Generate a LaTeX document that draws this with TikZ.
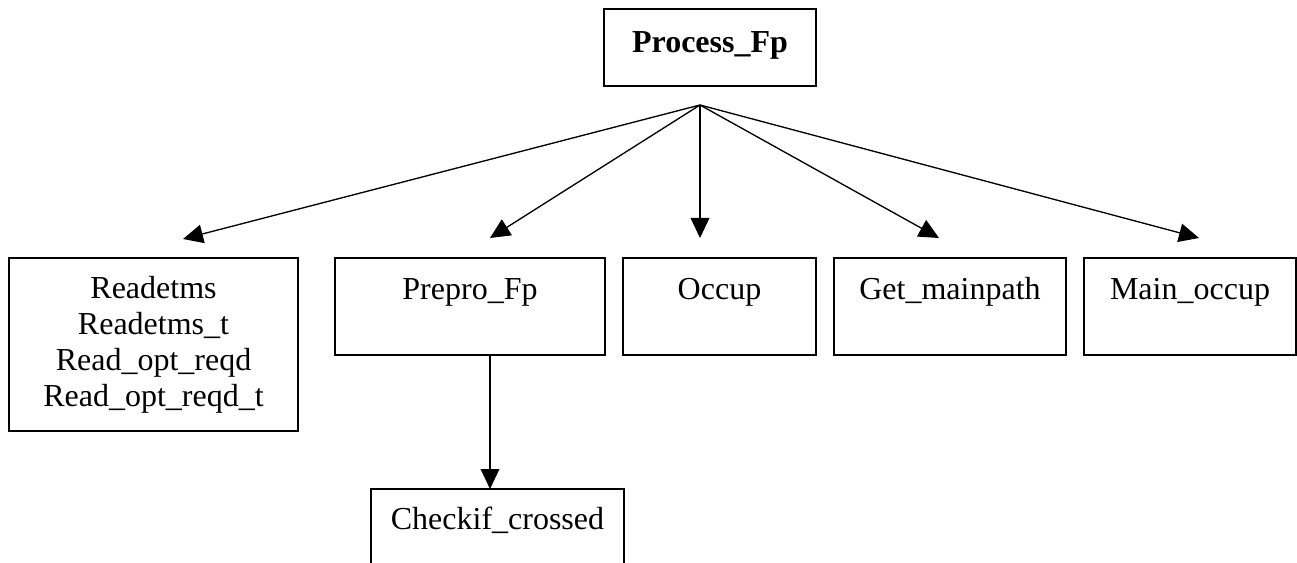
\documentclass[tikz,border=0pt]{standalone}
\usepackage{fontspec}
\setmainfont{Liberation Serif}
\usetikzlibrary{arrows.meta,calc}

% a box given by its corners in pixel-like units (1 unit = 0.75pt)
\newcommand{\procbox}[5]{%
  \node[box, minimum width={(#4-#2)*0.75pt}, minimum height={(#5-#3)*0.75pt}]
    (#1) at ({(#2+#4)/2},{(#3+#5)/2}) {};}

\tikzset{
  box/.style={draw, line width=1.3pt, inner sep=0pt, outer sep=0pt},
  lbl/.style={font=\fontsize{24}{27}\selectfont, inner sep=0pt, anchor=base, align=center},
  link/.style={line width=1pt, -{Triangle[length=15pt, width=14pt]}},
}

\begin{document}
\begin{tikzpicture}[x=0.75pt, y=-0.75pt]
  \clip (0,0) rectangle (1297,563);
  \fill[white] (0,0) rectangle (1297,563);

  % boxes
  \procbox{proc}{604}{9}{816}{86}
  \procbox{read}{9}{258}{298}{431}
  \procbox{prep}{335}{258}{605}{355}
  \procbox{occ}{623}{258}{816}{355}
  \procbox{getm}{834}{258}{1066}{355}
  \procbox{mocc}{1084}{258}{1296}{355}
  \procbox{chk}{371}{489}{624}{600}

  % labels, set from the top edge of each box (base = last line)
  \node[lbl, font=\fontsize{24}{27}\selectfont\bfseries] (proc-t) at ($(proc.north)+(0,44)$) {Process\_Fp};
  \node[lbl] (read-t) at ($(read.north)+(0,148)$) {Readetms\\Readetms\_t\\Read\_opt\_reqd\\Read\_opt\_reqd\_t};
  \node[lbl] (prep-t) at ($(prep.north)+(0,42)$) {Prepro\_Fp};
  \node[lbl] (occ-t) at ($(occ.north)+(0,42)$) {Occup};
  \node[lbl] (getm-t) at ($(getm.north)+(0,42)$) {Get\_mainpath};
  \node[lbl] (mocc-t) at ($(mocc.north)+(0,42)$) {Main\_occup};
  \node[lbl] (chk-t) at ($(chk.north)+(0,40)$) {Checkif\_crossed};

  % fan-out point and arrow targets
  \coordinate (hub) at (700,105);
  \coordinate (read-in) at (183,239);
  \coordinate (prep-in) at (490,238);
  \coordinate (occ-in) at (700,238);
  \coordinate (getm-in) at (939,238);
  \coordinate (mocc-in) at (1199,238);

  \draw[link] (hub) -- (read-in);
  \draw[link] (hub) -- (prep-in);
  \draw[link] (hub) -- (occ-in);
  \draw[link] (hub) -- (getm-in);
  \draw[link] (hub) -- (mocc-in);

  \draw[link] (prep.south -| prep-in) -- (chk.north -| prep-in);
\end{tikzpicture}
\end{document}
